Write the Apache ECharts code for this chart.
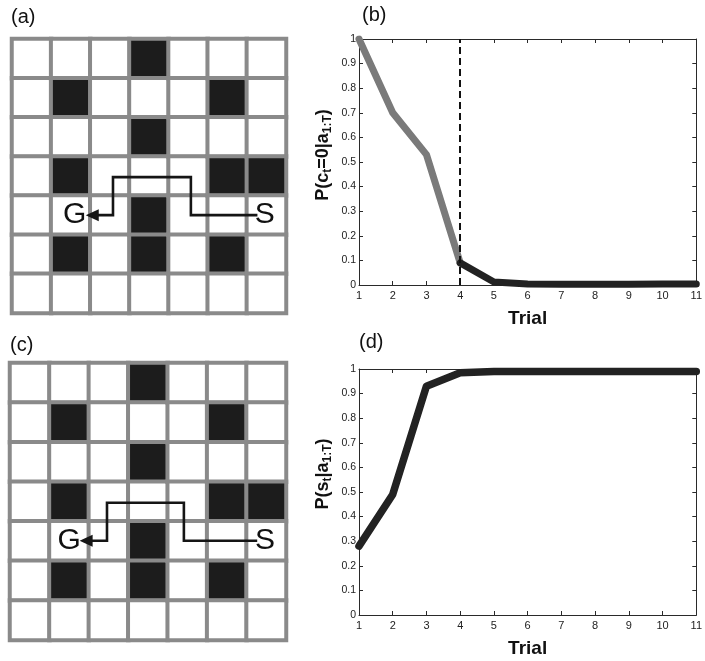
<!DOCTYPE html>
<html>
<head>
<meta charset="utf-8">
<script src="https://cdn.jsdelivr.net/npm/echarts@6/dist/echarts.min.js"></script>
<style>
  html, body { margin: 0; padding: 0; background: #fff; }
  #chart { width: 705px; height: 661px; }
</style>
</head>
<body>
<div id="chart"></div>
<script>
// ---- Maze: 7 x 7 cells, walls as [column, row], row 0 at the top ----
const mazeColumns = ['0', '1', '2', '3', '4', '5', '6'];
const mazeRows = ['0', '1', '2', '3', '4', '5', '6'];
const wallCells = [[3, 0], [1, 1], [5, 1], [3, 2], [1, 3], [5, 3], [6, 3], [3, 4], [1, 5], [3, 5], [5, 5]];

// Routes walked from S to G, in cell units (x = column, y = row)
const routeA = [[6.27, 4.5], [4.57, 4.5], [4.57, 3.53], [2.58, 3.53], [2.58, 4.5], [2.15, 4.5]];
const routeC = [[6.27, 4.49], [4.41, 4.49], [4.41, 3.53], [2.46, 3.53], [2.46, 4.49], [2.02, 4.49]];
const arrowHeadA = [2.05, 4.5];
const arrowHeadC = [1.93, 4.49];
const markersA = [['G', 1.6, 4.5], ['S', 6.46, 4.5]];
const markersC = [['G', 1.5, 4.49], ['S', 6.47, 4.49]];

// ---- Posterior curves over trials ----
const trials = [1, 2, 3, 4, 5, 6, 7, 8, 9, 10, 11];
const probConfusion = [1.0, 0.70, 0.53, 0.09, 0.012, 0.004, 0.003, 0.003, 0.003, 0.004, 0.004];
const probState = [0.28, 0.49, 0.93, 0.985, 0.99, 0.99, 0.99, 0.99, 0.99, 0.99, 0.99];
const switchTrial = 4;

const FONT = '"Liberation Sans", Arial, Helvetica, sans-serif';

const pairs = (xs, ys) => xs.map((x, i) => [x, ys[i]]);
const cutAt = trials.indexOf(switchTrial);

function mazeCells() {
  const isWall = {};
  wallCells.forEach(([c, r]) => { isWall[c + ',' + r] = true; });
  const out = [];
  for (let c = 0; c < mazeColumns.length; c++) {
    for (let r = 0; r < mazeRows.length; r++) {
      out.push([c, r, isWall[c + ',' + r] ? 1 : 0]);
    }
  }
  return out;
}

// Grid rectangles
const grids = [
  { left: 12, top: 39, width: 274, height: 274 },    // maze (a)
  { left: 12, top: 39, width: 274, height: 274 },    // route (a)
  { left: 359, top: 39, width: 343, height: 246 },   // curve (b)
  { left: 10, top: 363, width: 276, height: 277 },   // maze (c)
  { left: 10, top: 363, width: 276, height: 277 },   // route (c)
  { left: 359, top: 369, width: 343, height: 246 }   // curve (d)
];

const xAxes = [];
const yAxes = [];
const hidden = { axisLine: { show: false }, axisTick: { show: false }, axisLabel: { show: false }, splitLine: { show: false } };

function mazeAxes(gi) {
  xAxes.push(Object.assign({ type: 'category', gridIndex: gi, data: mazeColumns }, hidden));
  yAxes.push(Object.assign({ type: 'category', gridIndex: gi, data: mazeRows, inverse: true }, hidden));
}
function routeAxes(gi) {
  xAxes.push(Object.assign({ type: 'value', gridIndex: gi, min: 0, max: mazeColumns.length }, hidden));
  yAxes.push(Object.assign({ type: 'value', gridIndex: gi, min: 0, max: mazeRows.length, inverse: true }, hidden));
}
const boxLine = { show: true, onZero: false, lineStyle: { color: '#2a2a2a', width: 1 } };
const inTick = { show: true, inside: true, length: 4, lineStyle: { color: '#2a2a2a', width: 1 } };
// nameLift raises the rotated y title along its axis
function curveAxes(gi, yName, nameLift) {
  xAxes.push({
    type: 'value', gridIndex: gi, min: 1, max: 11, interval: 1, position: 'bottom',
    axisLine: boxLine, axisTick: inTick, splitLine: { show: false },
    axisLabel: { fontSize: 11, color: '#222', fontFamily: FONT, margin: 5 },
    name: 'Trial', nameLocation: 'middle', nameGap: 24,
    nameTextStyle: { fontSize: 19, fontWeight: 'bold', color: '#111', fontFamily: FONT }
  });
  xAxes.push({
    type: 'value', gridIndex: gi, min: 1, max: 11, interval: 1, position: 'top',
    axisLine: boxLine, axisTick: inTick, axisLabel: { show: false }, splitLine: { show: false }
  });
  yAxes.push({
    type: 'value', gridIndex: gi, min: 0, max: 1, interval: 0.1, position: 'left',
    axisLine: boxLine, axisTick: inTick, splitLine: { show: false },
    axisLabel: { fontSize: 10.5, color: '#222', fontFamily: FONT, margin: 3,
      formatter: v => String(Math.round(v * 10) / 10) },
    name: yName, nameLocation: 'middle', nameGap: 24,
    nameTextStyle: {
      padding: [0, 0, 0, nameLift * 2],
      rich: {
        b: { fontSize: 18, fontWeight: 'bold', color: '#111', fontFamily: FONT, lineHeight: 24, verticalAlign: 'middle' },
        s: { fontSize: 12, fontWeight: 'bold', color: '#111', fontFamily: FONT, lineHeight: 24, verticalAlign: 'bottom', padding: [0, 0, 1, 0] }
      }
    }
  });
  yAxes.push({
    type: 'value', gridIndex: gi, min: 0, max: 1, interval: 0.1, position: 'right',
    axisLine: boxLine, axisTick: inTick, axisLabel: { show: false }, splitLine: { show: false }
  });
}

mazeAxes(0);            // x0 / y0
routeAxes(1);           // x1 / y1
curveAxes(2, '{b|P(c}{s|t}{b|=0|a}{s|1:T}{b|)}', 7);   // x2,x3 / y2,y3
mazeAxes(3);            // x4 / y4
routeAxes(4);           // x5 / y5
curveAxes(5, '{b|P(s}{s|t}{b||a}{s|1:T}{b|)}', 18);    // x6,x7 / y6,y7

function mazeSeries(ax) {
  return {
    type: 'heatmap', xAxisIndex: ax, yAxisIndex: ax, data: mazeCells(),
    itemStyle: { borderColor: '#8a8a8a', borderWidth: 4 },
    emphasis: { disabled: true }, silent: true
  };
}
function routeSeries(ax, route, head, markers) {
  return [
    {
      type: 'line', xAxisIndex: ax, yAxisIndex: ax, data: route, symbol: 'none', silent: true,
      lineStyle: { color: '#151515', width: 2.6, join: 'miter' }, z: 5
    },
    {
      type: 'scatter', xAxisIndex: ax, yAxisIndex: ax, data: [head], symbol: 'triangle',
      symbolSize: [12, 13], symbolRotate: 90, itemStyle: { color: '#151515', opacity: 1 }, silent: true, z: 6
    },
    {
      type: 'scatter', xAxisIndex: ax, yAxisIndex: ax, symbolSize: 0, silent: true, z: 7,
      itemStyle: { opacity: 1 },
      data: markers.map(m => ({ value: [m[1], m[2]], name: m[0] })),
      label: { show: true, position: 'inside', formatter: p => p.name, fontSize: 30,
        color: '#111', fontFamily: FONT }
    }
  ];
}

const series = [
  mazeSeries(0),                                   // 0
  ...routeSeries(1, routeA, arrowHeadA, markersA), // 1-3
  {                                                // 4
    type: 'line', xAxisIndex: 2, yAxisIndex: 2, symbol: 'none', silent: true,
    data: pairs(trials, probConfusion).slice(0, cutAt + 1),
    lineStyle: { color: '#7a7a7a', width: 7, cap: 'round', join: 'round' }, z: 3
  },
  {                                                // 5
    type: 'line', xAxisIndex: 2, yAxisIndex: 2, symbol: 'none', silent: true,
    data: pairs(trials, probConfusion).slice(cutAt),
    lineStyle: { color: '#222', width: 7, cap: 'round', join: 'round' }, z: 3,
    markLine: {
      silent: true, symbol: 'none', z: 10, label: { show: false },
      lineStyle: { color: '#111', width: 2, type: [7, 4] },
      data: [{ xAxis: switchTrial }]
    }
  },
  mazeSeries(4),                                   // 6
  ...routeSeries(5, routeC, arrowHeadC, markersC), // 7-9
  {                                                // 10
    type: 'line', xAxisIndex: 6, yAxisIndex: 6, symbol: 'none', silent: true,
    data: pairs(trials, probState),
    lineStyle: { color: '#222', width: 7.5, cap: 'round', join: 'round' }, z: 3
  }
];

const panelLabel = (text, left, top) => ({
  text, left, top, padding: 0,
  textStyle: { fontSize: 20, fontWeight: 'normal', color: '#111', fontFamily: FONT }
});

const option = {
  backgroundColor: '#fff',
  animation: false,
  title: [panelLabel('(a)', 11, 7), panelLabel('(b)', 362, 5), panelLabel('(c)', 10, 335), panelLabel('(d)', 359, 332)],
  grid: grids,
  xAxis: xAxes,
  yAxis: yAxes,
  visualMap: [{
    type: 'piecewise', show: false, seriesIndex: [0, 6], dimension: 2,
    pieces: [{ value: 0, color: '#ffffff' }, { value: 1, color: '#1c1c1c' }]
  }],
  series
};

const chart = echarts.init(document.getElementById('chart'), null, { renderer: 'canvas' });
chart.setOption(option);
</script>
</body>
</html>
